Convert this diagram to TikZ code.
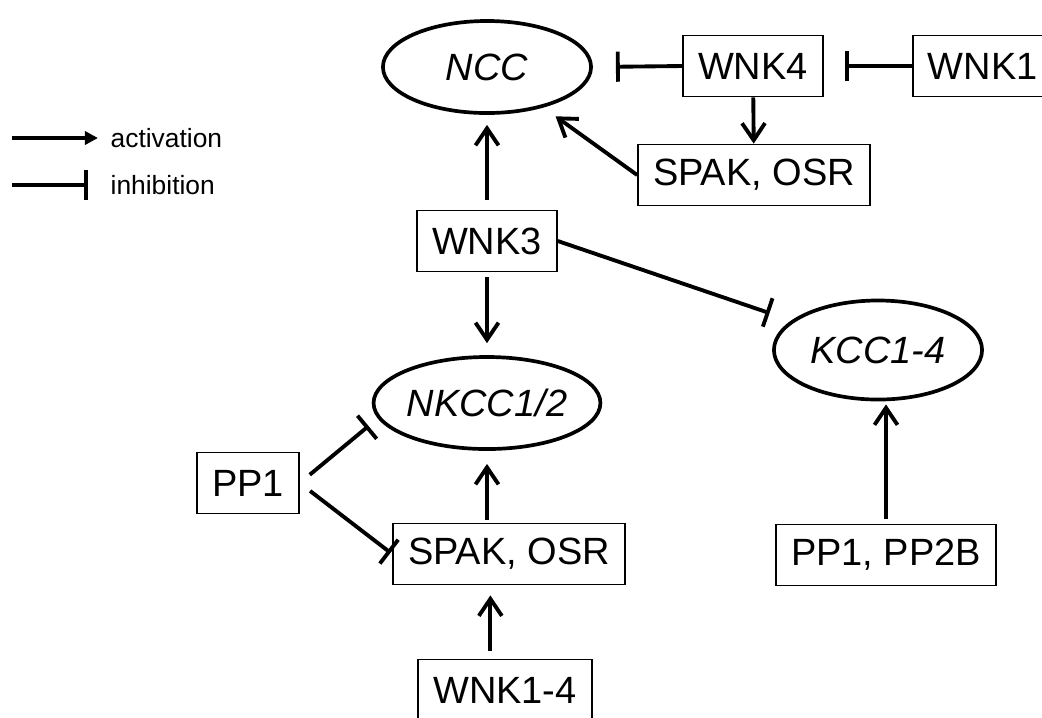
\documentclass[tikz,border=0pt]{standalone}
\usepackage{fontspec}
\setmainfont{Liberation Sans}
\usetikzlibrary{arrows.meta, shapes.geometric}
\tikzset{kinase/.style={draw, line width=0.5pt, minimum height=0.61cm,
        inner xsep=0.15cm, font=\fontsize{10.8}{13}\selectfont},
    carrier/.style={ellipse, draw, line width=1.05pt, minimum width=2.08cm,
        minimum height=0.92cm, inner sep=0pt, font=\fontsize{10.8}{13}\selectfont\itshape},
    act/.style={draw, line width=1.1pt, -{Straight Barb[length=1.7mm,width=2.3mm]}},
    inh/.style={draw, line width=1.1pt, -{Bar[width=3mm]}},
    legend text/.style={anchor=west, inner sep=0pt, font=\fontsize{7.5}{9}\selectfont}}

\begin{document}
\begin{tikzpicture}[x=0.01cm, y=-0.01cm]
    \useasboundingbox (0,0) rectangle (1042,717);

    % Legend
    \coordinate (act0) at (12,138);
    \coordinate (inh0) at (12,185);
    \node[legend text] (actlbl) at (110,138) {activation};
    \node[legend text] (inhlbl) at (110,185) {inhibition};
    \draw[line width=1.1pt, -{Triangle[length=1.3mm,width=1.3mm]}, shorten >=0.12cm] (act0) -- (actlbl.west);
    \draw[inh, shorten >=0.22cm] (inh0) -- (inhlbl.west);

    % Transporters
    \node[carrier] (ncc)  at (487,67)  {NCC};
    \node[carrier] (nkcc) at (487,403) {NKCC1/2};
    \node[carrier, minimum height=0.99cm] (kcc) at (878,350) {KCC1-4};

    % Kinases and phosphatases
    \node[kinase] (wnk4)  at (753,66)  {WNK4};
    \node[kinase, anchor=west] (wnk1) at (912,66) {WNK1};
    \node[kinase] (spak1) at (754,175) {SPAK, OSR};
    \node[kinase] (wnk3)  at (487,241) {WNK3};
    \node[kinase] (pp1)   at (248,483) {PP1};
    \node[kinase] (spak2) at (509,554) {SPAK, OSR};
    \node[kinase] (pp2b)  at (886,555) {PP1, PP2B};
    \node[kinase] (wnk14) at (505,690) {WNK1-4};

    % Activation
    \draw[act, shorten <=0.1cm, shorten >=0.1cm] (wnk3) -- (ncc);
    \draw[act, shorten <=0.05cm, shorten >=0.12cm] (wnk3.south) -- (nkcc.north);
    \draw[act] (wnk4) -- (spak1);
    \draw[act, shorten >=0.15cm] (spak1.west) -- (ncc);
    \draw[act, shorten <=0.05cm, shorten >=0.03cm] (pp2b.north) -- (pp2b.north |- kcc.south);
    \draw[act, shorten <=0.03cm, shorten >=0.13cm] (spak2.north -| nkcc) -- (nkcc.south);
    \draw[act, shorten <=0.08cm, shorten >=0.1cm] (wnk14.115) -- (wnk14.115 |- spak2.south);

    % Inhibition
    \draw[inh, shorten >=0.23cm] (wnk4.west) -- (ncc.east);
    \draw[inh, shorten >=0.21cm] (wnk1.west) -- (wnk4.east);
    \draw[inh, shorten >=0.23cm] (wnk3.east) -- (kcc);
    \draw[inh, shorten <=0.13cm, shorten >=0.12cm] (pp1.east) -- (nkcc.188);
    \draw[inh, shorten <=0.13cm, shorten >=0.02cm] (pp1.east) -- (spak2.west);
\end{tikzpicture}
\end{document}
